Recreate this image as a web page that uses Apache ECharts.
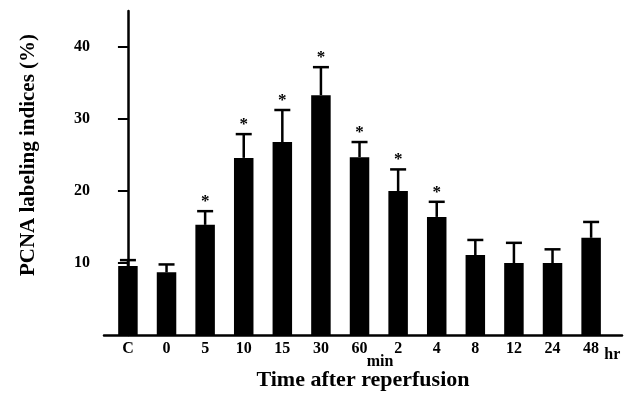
<!DOCTYPE html>
<html>
<head>
<meta charset="utf-8">
<script src="https://cdn.jsdelivr.net/npm/echarts@6/dist/echarts.min.js"></script>
<style>
  html, body { margin: 0; padding: 0; background: #fff; }
  #main { width: 627px; height: 398px; }
</style>
</head>
<body>
<div id="main"></div>
<script>
// time points (min up to 60, then hr)
const categories = ['C', '0', '5', '10', '15', '30', '60', '2', '4', '8', '12', '24', '48']
// PCNA labeling index, mean (%)
const means = [9.6, 8.7, 15.3, 24.6, 26.8, 33.3, 24.7, 20.0, 16.4, 11.1, 10.0, 10.0, 13.5]
// error bar (upper) size
const errors = [0.8, 1.1, 1.9, 3.3, 4.45, 3.9, 2.1, 3.0, 2.1, 2.1, 2.8, 1.9, 2.2]
// 1 = significant (*)
const signif = [0, 0, 1, 1, 1, 1, 1, 1, 1, 0, 0, 0, 0]
const yTicks = [10, 20, 30, 40]

const font = 'Liberation Serif'
const myChart = echarts.init(document.getElementById('main'))

const option = {
    backgroundColor: '#fff',
    animation: false,
    grid: { left: 104, right: 5, top: 11, bottom: 63 },
    xAxis: {
        type: 'value',
        min: -0.62,
        max: 12.8,
        name: 'Time after reperfusion',
        nameLocation: 'middle',
        nameGap: 34,
        nameTextStyle: { fontFamily: font, fontWeight: 'bold', fontSize: 22, color: '#000' },
        axisLine: { show: true, lineStyle: { color: '#000', width: 2.5 } },
        axisTick: { show: false },
        splitLine: { show: false },
        axisLabel: {
            customValues: categories.map((c, i) => i),
            formatter: v => categories[Math.round(v)],
            margin: 6,
            fontFamily: font, fontWeight: 'bold', fontSize: 16, color: '#000'
        }
    },
    yAxis: {
        type: 'value',
        min: 0,
        max: 45,
        name: 'PCNA labeling indices (%)',
        nameLocation: 'middle',
        nameGap: 65,
        nameTextStyle: { fontFamily: font, fontWeight: 'bold', fontSize: 21, color: '#000', padding: [0, 0, 0, 36] },
        axisLine: { show: true, lineStyle: { color: '#000', width: 2.5 } },
        axisTick: { show: true, customValues: yTicks, length: 10, lineStyle: { color: '#000', width: 2 } },
        splitLine: { show: false },
        axisLabel: {
            customValues: yTicks,
            margin: 14,
            fontFamily: font, fontWeight: 'bold', fontSize: 16, color: '#000'
        }
    },
    series: [
        {
            type: 'bar',
            barWidth: 19.5,
            itemStyle: { color: '#000' },
            data: means.map((m, i) => [i, m])
        },
        {
            type: 'custom',
            z: 3,
            data: means.map((m, i) => [i, m, errors[i], signif[i]]),
            renderItem: (params, api) => {
                const x = api.value(0), m = api.value(1), e = api.value(2), s = api.value(3)
                const base = api.coord([x, m])
                const top = api.coord([x, m + e])
                const children = [
                    { type: 'line', shape: { x1: base[0], y1: base[1], x2: top[0], y2: top[1] },
                      style: { stroke: '#000', lineWidth: 2.5 } },
                    { type: 'line', shape: { x1: top[0] - 8, y1: top[1], x2: top[0] + 8, y2: top[1] },
                      style: { stroke: '#000', lineWidth: 2.5 } }
                ]
                if (s) {
                    children.push({
                        type: 'text',
                        style: { text: '*', x: top[0], y: top[1] - 1, align: 'center', verticalAlign: 'bottom',
                                  font: 'bold 17px ' + font, fill: '#000' }
                    })
                }
                return { type: 'group', children }
            }
        }
    ]
}
myChart.setOption(option)

// unit labels under the axis
const minPos = myChart.convertToPixel({ xAxisIndex: 0 }, 6.53)
const hrPos = myChart.convertToPixel({ xAxisIndex: 0 }, 12.55)
const axisY = myChart.convertToPixel({ yAxisIndex: 0 }, 0)
myChart.setOption({
    graphic: [
        { type: 'text', x: minPos, y: axisY + 27, style: { text: 'min', align: 'center', verticalAlign: 'middle',
          font: 'bold 16px ' + font, fill: '#000' } },
        { type: 'text', x: hrPos, y: axisY + 20, style: { text: 'hr', align: 'center', verticalAlign: 'middle',
          font: 'bold 16px ' + font, fill: '#000' } }
    ]
})
</script>
</body>
</html>
